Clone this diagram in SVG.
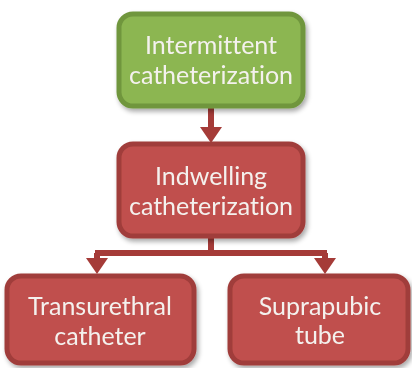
<svg xmlns="http://www.w3.org/2000/svg" width="412" height="368" viewBox="0 0 412 368">
  <defs>
    <style>
      .box-green { fill: #8cb651; stroke: #6f963d; stroke-width: 5; }
      .box-red { fill: #c0504d; stroke: #a03d3a; stroke-width: 5; }
      .label { font-family: "Lato", "Liberation Sans", sans-serif; font-size: 25px; fill: #f4f1ee; text-anchor: middle;
               font-variant-ligatures: none; font-feature-settings: "liga" 0, "clig" 0, "dlig" 0; }
      .link { stroke: #a53b38; stroke-width: 6; fill: none; }
      .head { fill: #a53b38; }
    </style>
    <filter id="shadow" x="-10%" y="-10%" width="125%" height="130%">
      <feGaussianBlur in="SourceAlpha" stdDeviation="2.5"/>
      <feOffset dx="2" dy="3" result="b"/>
      <feComponentTransfer><feFuncA type="linear" slope="0.35"/></feComponentTransfer>
      <feMerge><feMergeNode/><feMergeNode in="SourceGraphic"/></feMerge>
    </filter>
  </defs>
  <rect width="412" height="368" fill="#ffffff"/>

  <!-- connectors -->
  <g id="connectors">
    <line class="link" x1="211" y1="108" x2="211" y2="130"/>
    <polygon class="head" points="200,127 222,127 211,143"/>
    <polyline class="link" points="211,238 211,253"/>
    <line class="link" x1="95" y1="253" x2="327" y2="253"/>
    <line class="link" x1="97" y1="253" x2="97" y2="262"/>
    <polygon class="head" points="86,258 108,258 97,274"/>
    <line class="link" x1="325" y1="253" x2="325" y2="262"/>
    <polygon class="head" points="314,258 336,258 325,274"/>
  </g>

  <g id="intermittent" filter="url(#shadow)">
    <rect class="box-green" x="119" y="14" width="184" height="92" rx="14"/>
    <text class="label" x="211" y="54">Intermittent</text>
    <text class="label" x="211" y="84">catheterization</text>
  </g>

  <g id="indwelling" filter="url(#shadow)">
    <rect class="box-red" x="119" y="144" width="184" height="92" rx="14"/>
    <text class="label" x="211" y="185">Indwelling</text>
    <text class="label" x="211" y="215">catheterization</text>
  </g>

  <g id="transurethral" filter="url(#shadow)">
    <rect class="box-red" x="7" y="276" width="187" height="87" rx="14"/>
    <text class="label" x="100" y="315">Transurethral</text>
    <text class="label" x="100" y="345">catheter</text>
  </g>

  <g id="suprapubic" filter="url(#shadow)">
    <rect class="box-red" x="230" y="276" width="178" height="87" rx="14"/>
    <text class="label" x="320" y="315">Suprapubic</text>
    <text class="label" x="320" y="344">tube</text>
  </g>
</svg>
